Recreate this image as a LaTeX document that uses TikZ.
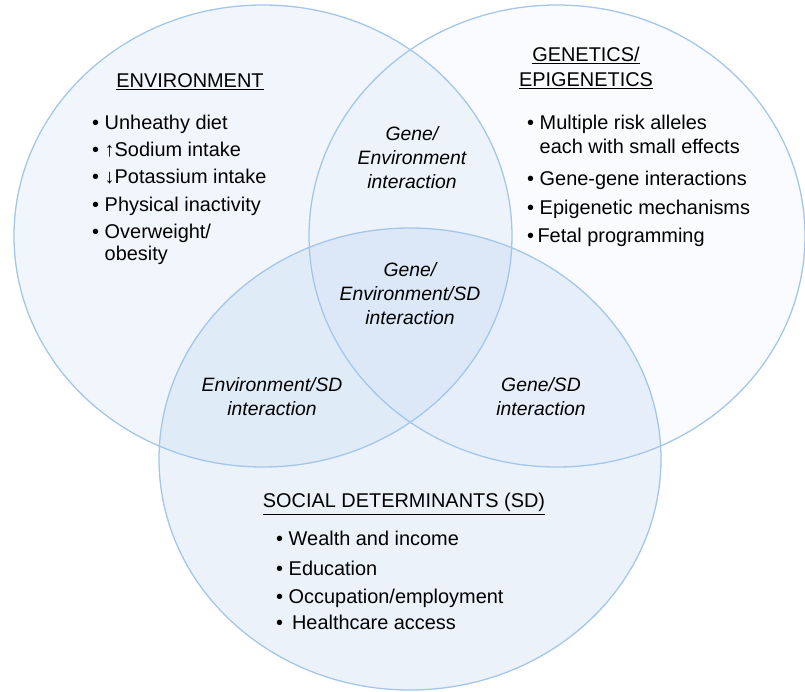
\documentclass[tikz,border=0pt]{standalone}
\usepackage{fontspec}
\setmainfont{Liberation Sans}
\definecolor{ringblue}{RGB}{164,198,234}
\definecolor{fillblue}{RGB}{150,186,230}

\begin{document}
\begin{tikzpicture}[x=0.03cm, y=-0.03cm,
      every node/.style = {align=center, inner sep=0pt, font=\fontsize{17}{20.5}\selectfont},
      ring/.style = {draw=ringblue, line width=1.1pt},
      list/.style = {align=left, anchor=north west},
      mix/.style = {font=\fontsize{16.5}{20.5}\selectfont\itshape}]
    \useasboundingbox (0,0) rectangle (805,691);
    % the three sets
    \fill[fillblue, fill opacity=0.13] (263,236) ellipse [x radius=249, y radius=231];
    \fill[fillblue, fill opacity=0.06] (557,236) ellipse [x radius=248, y radius=231];
    \fill[fillblue, fill opacity=0.19] (410,459) ellipse [x radius=251, y radius=231];
    \draw[ring] (263,236) ellipse [x radius=249, y radius=231];
    \draw[ring] (557,236) ellipse [x radius=248, y radius=231];
    \draw[ring] (410,459) ellipse [x radius=251, y radius=231];

    \node (envtitle) at (190,82) {\underline{ENVIRONMENT}};
    \node[list] (envlist) at (92,115) {%
      •\ Unheathy diet\\[2.8pt]
      •\ ↑Sodium intake\\[2.5pt]
      •\ ↓Potassium intake\\[3pt]
      •\ Physical inactivity\\[2.5pt]
      •\ Overweight/\\[-2pt]
      \hphantom{•\ }obesity};

    \node (gentitle) at (586,68) {\underline{GENETICS/}\\[1pt]\underline{EPIGENETICS}};
    \node[list] (genlist) at (527,115) {%
      •\ Multiple risk alleles\\
      \hphantom{•\ }each with small effects\\[7pt]
      •\ Gene-gene interactions\\[3.5pt]
      •\ Epigenetic mechanisms\\[4pt]
      •\,Fetal programming};

    \node[mix] (geneenv) at (412,158) {Gene/\\Environment\\interaction};
    \node[mix] (all) at (410,294) {Gene/\\Environment/SD\\interaction};
    \node[mix] (envsd) at (272,397) {Environment/SD\\interaction};
    \node[mix] (genesd) at (541,397) {Gene/SD\\interaction};

    \node (sdtitle) at (404,504) {\underline{SOCIAL DETERMINANTS (SD)}};
    \node[list] (sdlist) at (276,531) {%
      •\ Wealth and income\\[5pt]
      •\ Education\\[3.5pt]
      •\ Occupation/employment\\[1.5pt]
      •\ \,Healthcare access};
\end{tikzpicture}
\end{document}
